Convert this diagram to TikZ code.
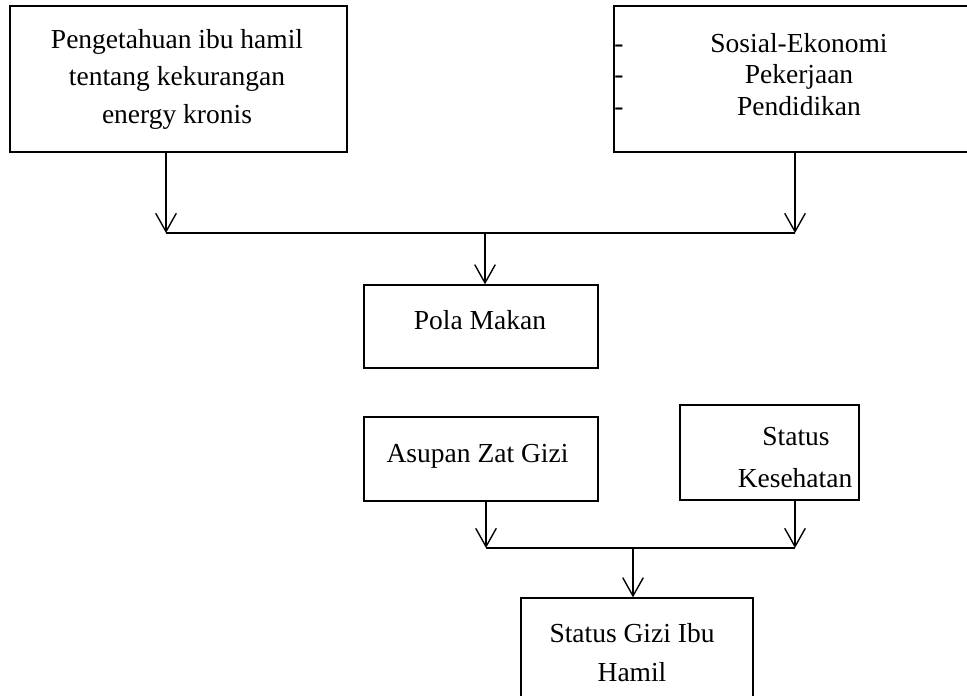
\documentclass[tikz,border=0pt]{standalone}
\usepackage{fontspec}
\setmainfont{Liberation Serif}
\usetikzlibrary{arrows.meta, calc}
\newcommand{\px}{0.4364pt}

\begin{document}
\begin{tikzpicture}[x=\px, y=-\px,
    kotak/.style={draw, line width=0.6pt, inner sep=0pt},
    teks/.style={inner sep=0pt, font=\fontsize{12}{14}\selectfont},
    panah/.style={line width=0.6pt, -{Straight Barb[length=8pt, width=9pt, line width=0.6pt]}},
    sambung/.style={line width=0.8pt}]
    \useasboundingbox (0,0) rectangle (967,695);

    % kotak
    \node[kotak, minimum width=337*\px, minimum height=146*\px] (tahu) at (178.5,79) {};
    \node[kotak, minimum width=380*\px, minimum height=146*\px] (sosek) at (804,79) {};
    \node[kotak, minimum width=234*\px, minimum height=83*\px] (pola) at (481,326.5) {};
    \node[kotak, minimum width=234*\px, minimum height=84*\px] (asupan) at (481,459) {};
    \node[kotak, minimum width=179*\px, minimum height=95*\px] (sehat) at (769.5,452.5) {};
    \node[kotak, minimum width=232*\px, minimum height=120*\px] (gizi) at (637,658) {};

    % teks
    \foreach \t [count=\i] in {Pengetahuan ibu hamil, tentang kekurangan, energy kronis}
        \node[teks, anchor=base] (tahu\i) at (177,48+37.5*\i-37.5) {\t};
    \foreach \t [count=\i] in {Sosial-Ekonomi, Pekerjaan, Pendidikan} {
        \node[teks, anchor=base] (sosek\i) at (799,52+31.5*\i-31.5) {\t};
        \node[teks, anchor=base west] (strip\i) at (614,52+31.5*\i-31.5) {-};
    }
    \node[teks, anchor=base] (pola1) at (480,329) {Pola Makan};
    \node[teks, anchor=base] (asupan1) at (477.5,462) {Asupan Zat Gizi};
    \node[teks, anchor=base] (sehat1) at (796,445) {Status};
    \node[teks, anchor=base] (sehat2) at (795,487) {Kesehatan};
    \node[teks, anchor=base] (gizi1) at (632,642) {Status Gizi Ibu};
    \node[teks, anchor=base] (gizi2) at (632,681) {Hamil};

    % panah
    \coordinate (j1l) at (166,233);
    \coordinate (j1r) at (795,233);
    \coordinate (j1m) at (485,233);
    \draw[panah] (tahu.south -| j1l) -- (j1l);
    \draw[panah] (sosek.south -| j1r) -- (j1r);
    \draw[sambung] (j1l) -- (j1r);
    \draw[panah] (j1m) -- (pola.north -| j1m);

    \coordinate (j2l) at (486,548);
    \coordinate (j2r) at (795,548);
    \coordinate (j2m) at (633,548);
    \draw[panah] (asupan.south -| j2l) -- (j2l);
    \draw[panah] (sehat.south -| j2r) -- (j2r);
    \draw[sambung] (j2l) -- (j2r);
    \draw[panah] (j2m) -- (gizi.north -| j2m);
\end{tikzpicture}
\end{document}
